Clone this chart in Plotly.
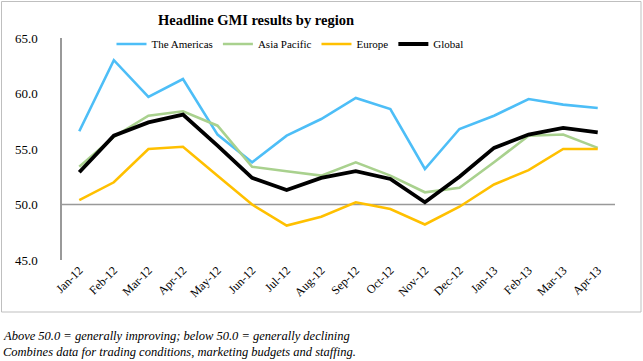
import plotly.graph_objects as go

months = ["Jan-12", "Feb-12", "Mar-12", "Apr-12", "May-12", "Jun-12", "Jul-12", "Aug-12",
          "Sep-12", "Oct-12", "Nov-12", "Dec-12", "Jan-13", "Feb-13", "Mar-13", "Apr-13"]
americas = [56.6, 63.0, 59.7, 61.3, 56.3, 53.8, 56.2, 57.7, 59.6, 58.6, 53.2, 56.8, 58.0, 59.5, 59.0, 58.7]
asia_pacific = [53.4, 56.1, 58.0, 58.4, 57.1, 53.4, 53.0, 52.6, 53.8, 52.6, 51.1, 51.5, 53.8, 56.2, 56.3, 55.1]
europe = [50.4, 52.0, 55.0, 55.2, 52.6, 50.0, 48.1, 48.9, 50.2, 49.6, 48.2, 49.8, 51.8, 53.1, 55.0, 55.0]
global_ = [52.9, 56.2, 57.4, 58.1, 55.3, 52.4, 51.3, 52.4, 53.0, 52.3, 50.2, 52.5, 55.1, 56.3, 56.9, 56.5]
y_ticks = [45, 50, 55, 60, 65]

FONT = "Liberation Serif"
L, T, PW, PH = 62, 38, 553, 222  # plot area in pixels

def px_x(x):
    return (x - L) / PW

def px_y(y):
    return (T + PH - y) / PH

fig = go.Figure()
series = [
    ("The Americas", americas, "#4DBEF7", 2.6),
    ("Asia Pacific", asia_pacific, "#A9D18E", 2.6),
    ("Europe", europe, "#FFC000", 2.6),
    ("Global", global_, "#000000", 3.8),
]
for name, vals, col, w in series:
    fig.add_trace(go.Scatter(x=months, y=vals, name=name, mode="lines",
                             line=dict(color=col, width=w)))

# category axis crossing at 50
fig.add_shape(type="line", xref="paper", yref="y", x0=0, x1=1, y0=50, y1=50,
              line=dict(color="#999999", width=1.5), layer="below")
# chart border
fig.add_shape(type="rect", xref="paper", yref="paper",
              x0=px_x(1.5), x1=px_x(641), y0=px_y(312), y1=px_y(1.5),
              line=dict(color="#BFBFBF", width=1), layer="below")

fig.update_layout(
    width=643, height=361,
    margin=dict(l=L, r=643 - L - PW, t=T, b=361 - T - PH, autoexpand=False),
    paper_bgcolor="white", plot_bgcolor="white",
    font=dict(family=FONT, color="#000000"),
    title=dict(text="<b>Headline GMI results by region</b>", x=256/643, xanchor="center",
               y=1-20/361, yanchor="middle", font=dict(size=14.5, family=FONT)),
    legend=dict(orientation="h", x=px_x(290), xanchor="center",
                y=px_y(44), yanchor="middle", font=dict(size=11, family=FONT),
                bgcolor="rgba(0,0,0,0)", itemwidth=30, tracegroupgap=0),
    showlegend=True,
    xaxis=dict(type="category", range=[-0.5, 15.5], showgrid=False, showline=False,
               zeroline=False, tickangle=-45, tickfont=dict(size=12, family=FONT),
               ticks=""),
    yaxis=dict(range=[45, 65], tickvals=y_ticks, ticktext=[f"{v:.1f}" for v in y_ticks],
               showgrid=False, zeroline=False, showline=True, linecolor="#999999", linewidth=1.5,
               tickfont=dict(size=13, family=FONT), ticks="", ticklabelstandoff=20),
    annotations=[
        dict(text="<i>Above 50.0 = generally improving; below 50.0 = generally declining</i>",
             xref="paper", yref="paper", x=px_x(1), y=px_y(336), xanchor="left",
             yanchor="middle", showarrow=False, font=dict(size=12.5, family=FONT)),
        dict(text="<i>Combines data for trading conditions, marketing budgets and staffing.</i>",
             xref="paper", yref="paper", x=px_x(1), y=px_y(352), xanchor="left",
             yanchor="middle", showarrow=False, font=dict(size=12.5, family=FONT)),
    ],
)

fig.write_html("out.html", config={"displayModeBar": False},
               post_script="document.body.style.margin='0';")
